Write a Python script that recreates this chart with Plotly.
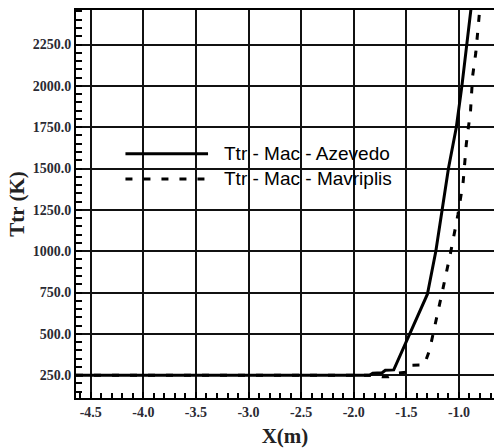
import plotly.graph_objects as go

# Translational temperature profiles along X
x_azevedo = [-4.64, -1.85, -1.82, -1.73, -1.70, -1.62, -1.30, -1.22, -1.10, -1.025, -0.972, -0.922, -0.885]
y_azevedo = [250, 250, 262, 265, 280, 282, 740, 1000, 1500, 1750, 2000, 2250, 2470]

x_mavriplis = [-4.64, -1.80, -1.73, -1.67, -1.60, -1.50, -1.47, -1.33, -1.28, -1.24, -1.16,
               -1.08, -1.01, -0.96, -0.93, -0.89, -0.87, -0.84, -0.80]
y_mavriplis = [250, 250, 240, 240, 262, 268, 310, 312, 400, 510, 750,
               990, 1220, 1420, 1650, 1850, 2060, 2200, 2480]

series_names = ["Ttr - Mac - Azevedo", "Ttr - Mac - Mavriplis"]

x_tick_vals = [-4.5, -4.0, -3.5, -3.0, -2.5, -2.0, -1.5, -1.0]
x_tick_labels = ["-4.5", "-4.0", "-3.5", "-3.0", "-2.5", "-2.0", "-1.5", "-1.0"]
y_tick_vals = [250, 500, 750, 1000, 1250, 1500, 1750, 2000, 2250]
y_tick_labels = ["250.0", "500.0", "750.0", "1000.0", "1250.0", "1500.0", "1750.0", "2000.0", "2250.0"]

x_range = [-4.64, -0.667]
y_range = [112, 2459]

# in-plot key: sample line span and row levels (data units)
key_x = [-4.17, -3.385]
key_text_x = -3.255
key_rows = [1589, 1437]

line_w = 3
dash_pattern = "7px,11px"

fig = go.Figure()
fig.add_trace(go.Scatter(x=x_azevedo, y=y_azevedo, mode="lines", name=series_names[0],
                         line=dict(color="black", width=line_w), showlegend=False))
fig.add_trace(go.Scatter(x=x_mavriplis, y=y_mavriplis, mode="lines", name=series_names[1],
                         line=dict(color="black", width=line_w, dash=dash_pattern), showlegend=False))

# key lines and labels drawn inside the plot
for i, (name, row) in enumerate(zip(series_names, key_rows)):
    fig.add_trace(go.Scatter(x=key_x, y=[row, row], mode="lines", showlegend=False, hoverinfo="skip",
                             line=dict(color="black", width=line_w,
                                       dash="solid" if i == 0 else dash_pattern)))
    fig.add_annotation(x=key_text_x, y=row, xref="x", yref="y", text=name, showarrow=False,
                       xanchor="left", yanchor="middle",
                       font=dict(family="Liberation Sans, Arial", size=19, color="black"))

tick_font = dict(family="Liberation Serif, Times New Roman", size=14, color="#2a2a33", weight="bold")
title_font = dict(family="Liberation Serif, Times New Roman", size=21, color="#222", weight="bold")

fig.update_xaxes(
    range=x_range, tickvals=x_tick_vals, ticktext=x_tick_labels, tickfont=tick_font,
    showgrid=True, gridcolor="#111", gridwidth=1.6,
    showline=True, linecolor="black", linewidth=2, mirror=True,
    ticks="inside", ticklen=6, tickwidth=1.5, tickcolor="black",
    minor=dict(dtick=0.1, ticks="inside", ticklen=5, tickwidth=1.5, tickcolor="black", showgrid=False),
    zeroline=False,
    title=dict(text="X(m)", font=title_font, standoff=10),
)
fig.update_yaxes(
    range=y_range, tickvals=y_tick_vals, ticktext=y_tick_labels, tickfont=tick_font,
    showgrid=True, gridcolor="#111", gridwidth=1.6,
    showline=True, linecolor="black", linewidth=2, mirror=False,
    ticks="inside", ticklen=6, tickwidth=1.5, tickcolor="black",
    minor=dict(dtick=50, ticks="inside", ticklen=6, tickwidth=1.5, tickcolor="black", showgrid=False),
    zeroline=False,
    title=dict(text="Ttr (K)", font=title_font, standoff=2),
)

fig.update_layout(
    width=494, height=448,
    margin=dict(l=76, r=0, t=10, b=50),
    paper_bgcolor="white", plot_bgcolor="white",
    showlegend=False,
)

fig.write_html("out.html")
